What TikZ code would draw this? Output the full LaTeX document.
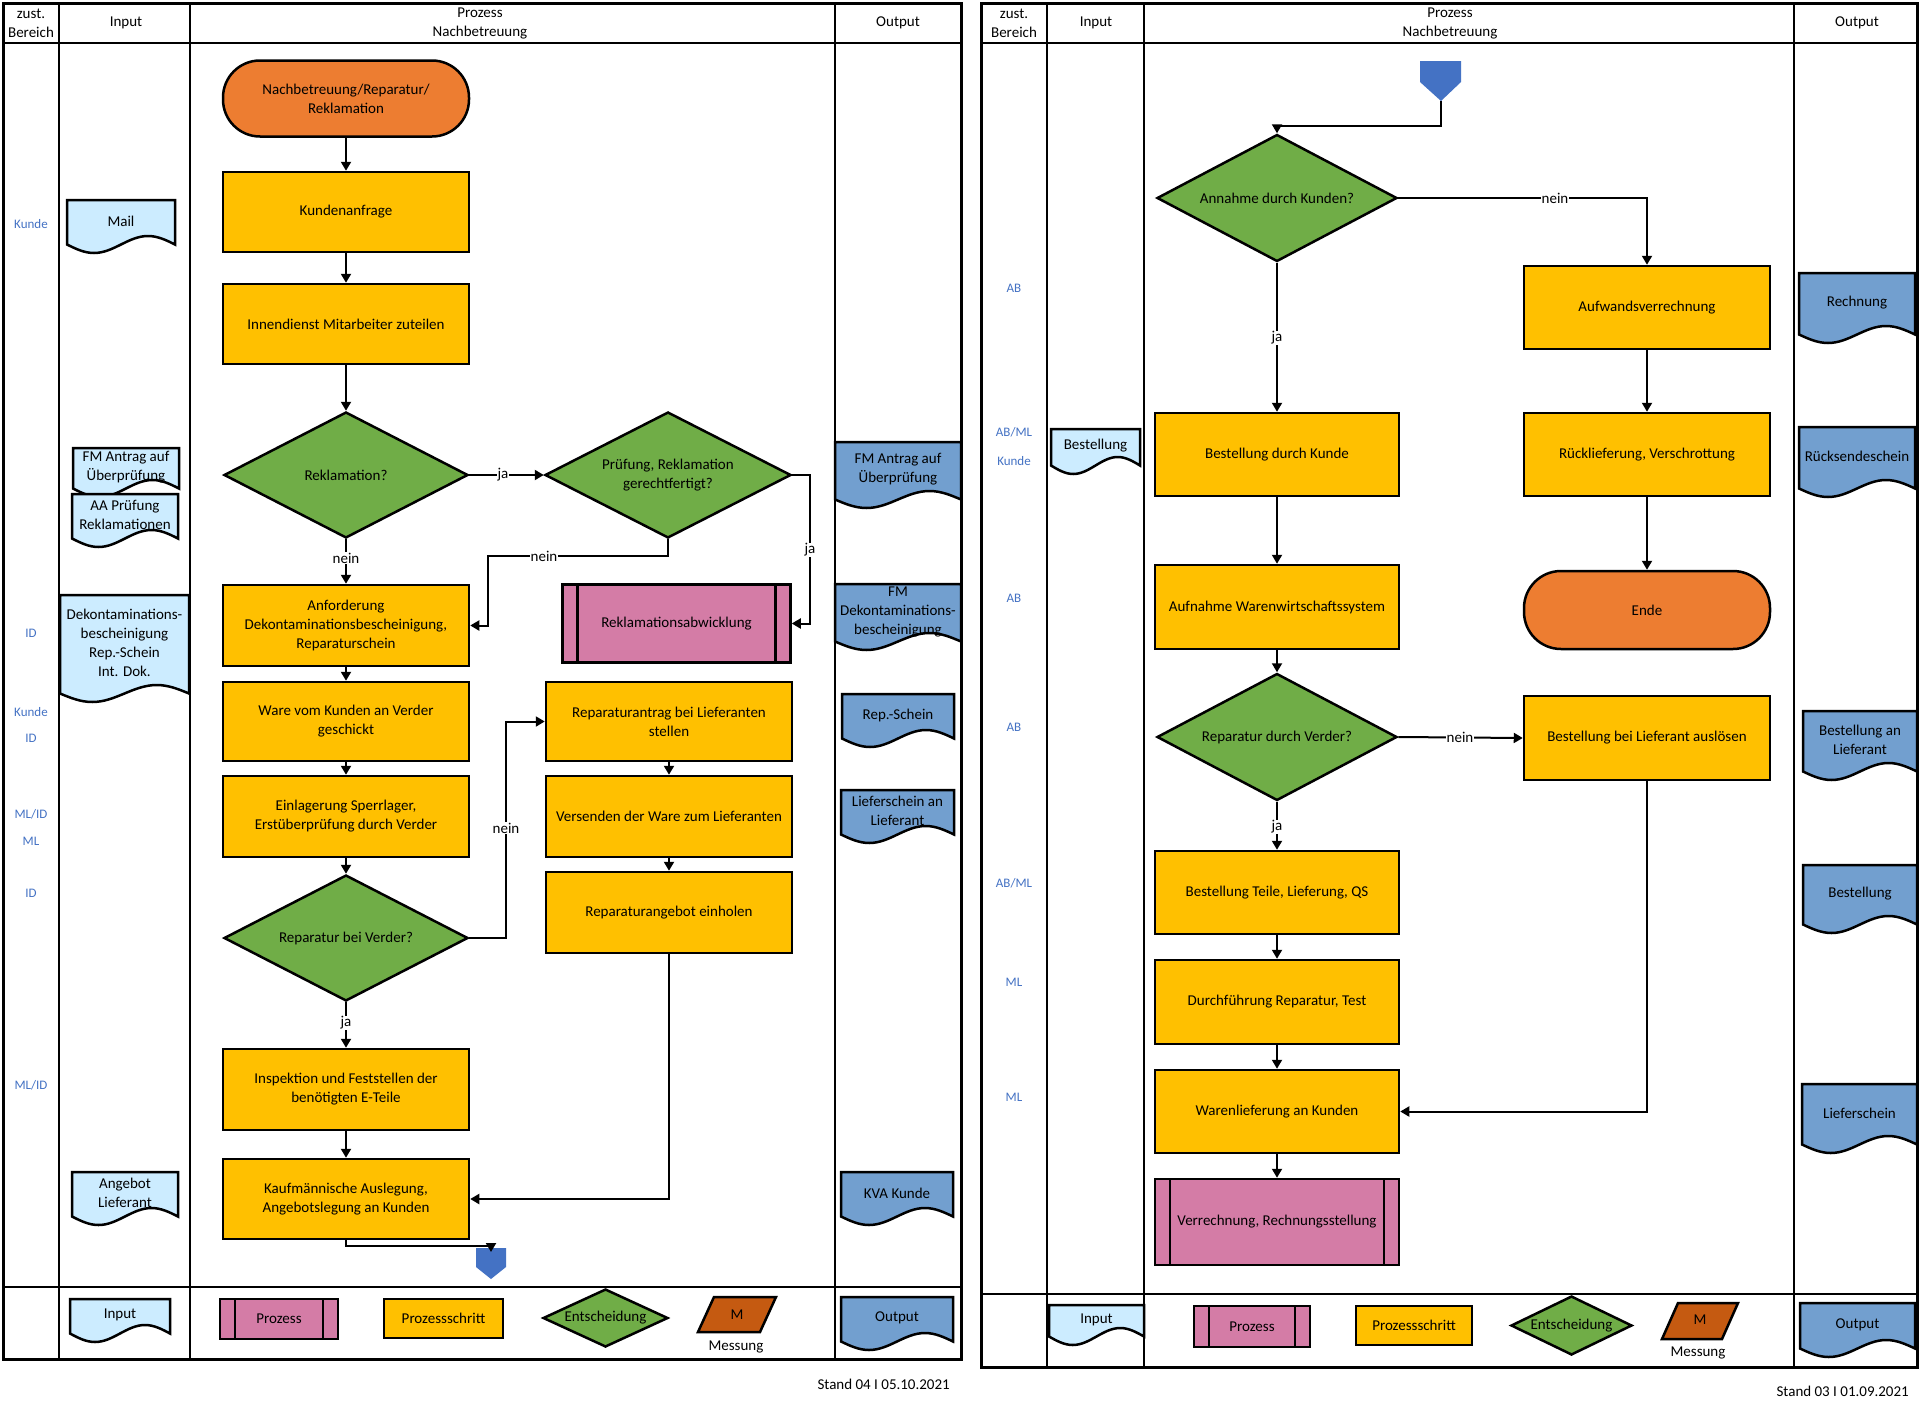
\documentclass[tikz,border=0pt]{standalone}
\usepackage{fontspec}
\setmainfont{Carlito}
\usetikzlibrary{arrows.meta,shapes.geometric}
\definecolor{corange}{HTML}{ED7D31}
\definecolor{cyellow}{HTML}{FFC000}
\definecolor{cgreen}{HTML}{70AD47}
\definecolor{cpink}{HTML}{D47CA6}
\definecolor{cin}{HTML}{CCECFF}
\definecolor{cout}{HTML}{729FCF}
\definecolor{cconn}{HTML}{4472C4}
\definecolor{cmeas}{HTML}{C55A11}
\definecolor{clbl}{HTML}{4472C4}
\newcommand\fs{\fontsize{15}{19}\selectfont}
\newcommand\docu[7]{%
  \pgfmathsetmacro\dxa{#2+0.25*(#4-#2)}%
  \pgfmathsetmacro\dxb{#2+0.5*(#4-#2)}%
  \pgfmathsetmacro\dxc{#2+0.75*(#4-#2)}%
  \pgfmathsetmacro\dyb{#5-8.5}%
  \pgfmathsetmacro\dyc{#5-17}%
  \pgfmathsetmacro\dtx{(#2+#4)/2}%
  \pgfmathsetmacro\dty{(#3+#5-17)/2+3}%
  \draw[docline,fill=#6] (#2,#3) -- (#4,#3) -- (#4,\dyb) sin (\dxc,\dyc) cos (\dxb,\dyb) sin (\dxa,#5) cos (#2,\dyb) -- cycle;
  \node[doctext] (#1) at (\dtx,\dty) {#7};
}
\begin{document}
\begin{tikzpicture}[x=1pt,y=-1pt,
  sz/.style 2 args={minimum width=#1pt,minimum height=#2pt},
  box/.style={draw=black,line width=2.5pt,align=center,font=\fs,inner sep=2pt},
  stepbox/.style={box,fill=cyellow},
  term/.style={box,fill=corange,rounded corners=37pt},
  procbox/.style={box,fill=cpink,path picture={
     \draw[line width=2.5pt] ([xshift=15pt]path picture bounding box.north west) -- ([xshift=15pt]path picture bounding box.south west);
     \draw[line width=2.5pt] ([xshift=-15pt]path picture bounding box.north east) -- ([xshift=-15pt]path picture bounding box.south east);}},
  dec/.style={draw=black,line width=2.5pt,fill=cgreen,diamond,inner sep=0pt},
  txt/.style={align=center,font=\fs,inner sep=0pt},
  docline/.style={draw=black,line width=2.5pt},
  doctext/.style={align=center,font=\fs,inner sep=0pt},
  blbl/.style={font=\fontsize{13}{15}\selectfont,text=clbl,inner sep=0pt},
  frame/.style={line width=3pt},
  sep/.style={line width=2pt},
  conn/.style={line width=2pt,-{Triangle[length=9pt,width=10pt]}},
  yn/.style={fill=white,font=\fs,inner sep=1pt}
]
\fill[white] (0,0) rectangle (1920,1408);
\useasboundingbox (0,0) rectangle (1920,1408);

%% ---------------- LEFT PANEL FRAME ----------------
\draw[sep] (3,43) -- (961,43);
\draw[sep] (3,1287) -- (961,1287);
\draw[sep] (59,3) -- (59,1359);
\draw[sep] (190,3) -- (190,1359);
\draw[sep] (835,3) -- (835,1359);
\draw[frame] (3,3) rectangle (961,1359);
\node[txt] (hL1) at (31,23) {zust.\\Bereich};
\node[txt] (hL2) at (126,23) {Input};
\node[txt] (hL3) at (480,23) {Prozess\\Nachbetreuung};
\node[txt] (hL4) at (898,23) {Output};

%% ---------------- RIGHT PANEL FRAME ----------------
\draw[sep] (981,43) -- (1917,43);
\draw[sep] (981,1294) -- (1917,1294);
\draw[sep] (1047,3) -- (1047,1367);
\draw[sep] (1144,3) -- (1144,1367);
\draw[sep] (1794,3) -- (1794,1367);
\draw[frame] (981,3) rectangle (1917,1367);
\node[txt] (hR1) at (1014,23) {zust.\\Bereich};
\node[txt] (hR2) at (1096,23) {Input};
\node[txt] (hR3) at (1450,23) {Prozess\\Nachbetreuung};
\node[txt] (hR4) at (1857,23) {Output};

%% ---------------- LEFT PROCESS ----------------
\node[term,sz={246}{76}] (start) at (346,98.5) {Nachbetreuung/Reparatur/\\Reklamation};
\node[stepbox,sz={246}{80}] (k1) at (346,212) {Kundenanfrage};
\node[stepbox,sz={246}{80}] (k2) at (346,324) {Innendienst Mitarbeiter zuteilen};
\node[dec,sz={244}{126}] (d1) at (346,475) {};
\node[txt] (d1t) at (d1) {Reklamation?};
\node[dec,sz={246}{126}] (d2) at (668,475) {};
\node[txt] (d2t) at (d2) {Prüfung, Reklamation\\gerechtfertigt?};
\node[procbox,sz={228}{78}] (rk) at (676.5,623.5) {Reklamationsabwicklung};
\node[stepbox,sz={246}{81}] (k3) at (346,625.5) {Anforderung\\Dekontaminationsbescheinigung,\\Reparaturschein};
\node[stepbox,sz={246}{79}] (k4) at (346,721.5) {Ware vom Kunden an Verder\\geschickt};
\node[stepbox,sz={246}{81}] (k5) at (346,816.5) {Einlagerung Sperrlager,\\Erstüberprüfung durch Verder};
\node[dec,sz={244}{126}] (d3) at (346,938) {};
\node[txt] (d3t) at (d3) {Reparatur bei Verder?};
\node[stepbox,sz={246}{81}] (k6) at (346,1089.5) {Inspektion und Feststellen der\\benötigten E-Teile};
\node[stepbox,sz={246}{80}] (k7) at (346,1199) {Kaufmännische Auslegung,\\Angebotslegung an Kunden};
\node[stepbox,sz={246}{79}] (r1) at (669,721.5) {Reparaturantrag bei Lieferanten\\stellen};
\node[stepbox,sz={246}{81}] (r2) at (669,816.5) {Versenden der Ware zum Lieferanten};
\node[stepbox,sz={246}{81}] (r3) at (669,912.5) {Reparaturangebot einholen};
\fill[cconn] (476,1248) -- (506,1248) -- (506,1267) -- (491,1279) -- (476,1267) -- cycle;
\coordinate (off1) at (491,1252);

\draw[conn] (start) -- (k1);
\draw[conn] (k1) -- (k2);
\draw[conn] (k2) -- (d1);
\draw[conn] (d1.east) -- (d2.west);
\draw[conn] (d2.east) -- (810,475) |- (rk.east);
\draw[conn] (d2.south) |- (488,556) |- (k3.east);
\draw[conn] (d1.south) -- (k3.north);
\draw[conn] (k3) -- (k4);
\draw[conn] (k4) -- (k5);
\draw[conn] (k5) -- (d3);
\draw[conn] (d3.east) -- (506,938) |- (r1.west);
\draw[conn] (d3.south) -- (k6.north);
\draw[conn] (k6) -- (k7);
\draw[conn] (r1) -- (r2);
\draw[conn] (r2) -- (r3);
\draw[conn] (r3.south) |- (k7.east);
\draw[conn] (k7.south) -- (346,1246) -| (off1);

\node[yn] (y1) at (503,475) {ja};
\node[yn] (y2) at (810,550) {ja};
\node[yn] (y3) at (544,556) {nein};
\node[yn] (y4) at (346,558) {nein};
\node[yn] (y5) at (506,828) {nein};
\node[yn] (y6) at (346,1023) {ja};

%% left inputs
\docu{iMail}{67}{200}{175}{253}{cin}{Mail}
\docu{iFM}{73}{448}{179}{497}{cin}{FM Antrag auf\\Überprüfung}
\docu{iAA}{72}{494}{178}{547}{cin}{AA Prüfung\\Reklamationen}
\docu{iDek}{60}{595}{189}{702}{cin}{Dekontaminations-\\bescheinigung\\Rep.-Schein\\Int. Dok.}
\docu{iAng}{72}{1172}{178}{1225}{cin}{Angebot\\Lieferant}
%% left outputs
\docu{oFM}{835}{442}{961}{508}{cout}{FM Antrag auf\\Überprüfung}
\docu{oDek}{835}{584}{961}{650}{cout}{FM\\Dekontaminations-\\bescheinigung}
\docu{oRep}{842}{694}{954}{747}{cout}{Rep.-Schein}
\docu{oLief}{841}{790}{954}{843}{cout}{Lieferschein an\\Lieferant}
\docu{oKVA}{841}{1172}{953}{1225}{cout}{KVA Kunde}

%% left area labels
\node[blbl] (bl1) at (31,224) {Kunde};
\node[blbl] (bl2) at (31,633) {ID};
\node[blbl] (bl3) at (31,712) {Kunde};
\node[blbl] (bl4) at (31,738) {ID};
\node[blbl] (bl5) at (31,814) {ML/ID};
\node[blbl] (bl6) at (31,841) {ML};
\node[blbl] (bl7) at (31,893) {ID};
\node[blbl] (bl8) at (31,1085) {ML/ID};

%% left legend
\docu{lgIn}{70}{1299}{170}{1342}{cin}{Input}
\node[procbox,sz={118}{40}] (lgP) at (279,1319) {Prozess};
\node[stepbox,sz={119}{39}] (lgS) at (443.5,1318.5) {Prozessschritt};
\node[dec,sz={125}{58}] (lgE) at (605.5,1318) {};
\node[txt] (lgEt) at (lgE) {Entscheidung};
\draw[line width=2.5pt,fill=cmeas] (714,1297) -- (776,1297) -- (760,1332) -- (698,1332) -- cycle;
\node[txt] (lgM) at (737,1314.5) {M};
\node[txt] (lgMt) at (736,1347) {Messung};
\docu{lgOut}{841}{1297}{953}{1350}{cout}{Output}
\node[txt,anchor=east] (stL) at (950,1384) {Stand 04 I 05.10.2021};

%% ---------------- RIGHT PROCESS ----------------
\fill[cconn] (1420,61) -- (1461,61) -- (1461,82) -- (1441,101) -- (1420,82) -- cycle;
\coordinate (off2) at (1441,101);
\node[dec,sz={240}{127}] (a1) at (1277,198) {};
\node[txt] (a1t) at (a1) {Annahme durch Kunden?};
\node[stepbox,sz={246}{83}] (b1) at (1647,307.5) {Aufwandsverrechnung};
\node[stepbox,sz={244}{83}] (b2) at (1277,454.5) {Bestellung durch Kunde};
\node[stepbox,sz={246}{83}] (b3) at (1647,454.5) {Rücklieferung, Verschrottung};
\node[stepbox,sz={244}{84}] (b4) at (1277,607) {Aufnahme Warenwirtschaftssystem};
\node[term,sz={246}{78}] (ende) at (1647,610) {Ende};
\node[dec,sz={240}{127}] (a2) at (1277,737) {};
\node[txt] (a2t) at (a2) {Reparatur durch Verder?};
\node[stepbox,sz={246}{84}] (b5) at (1647,738) {Bestellung bei Lieferant auslösen};
\node[stepbox,sz={244}{83}] (b6) at (1277,892.5) {Bestellung Teile, Lieferung, QS};
\node[stepbox,sz={244}{84}] (b7) at (1277,1002) {Durchführung Reparatur, Test};
\node[stepbox,sz={244}{83}] (b8) at (1277,1111.5) {Warenlieferung an Kunden};
\node[procbox,sz={244}{86}] (b9) at (1277,1222) {Verrechnung, Rechnungsstellung};

\draw[conn] (off2) -- (1441,126) -| (a1.north);
\draw[conn] (a1.east) -| (b1.north);
\draw[conn] (a1.south) -- (b2.north);
\draw[conn] (b1) -- (b3);
\draw[conn] (b3) -- (ende);
\draw[conn] (b2) -- (b4);
\draw[conn] (b4) -- (a2);
\draw[conn] (a2.east) -- (b5.west);
\draw[conn] (a2.south) -- (b6.north);
\draw[conn] (b6) -- (b7);
\draw[conn] (b7) -- (b8);
\draw[conn] (b8) -- (b9);
\draw[conn] (b5.south) |- (b8.east);

\node[yn] (y7) at (1555,198) {nein};
\node[yn] (y8) at (1277,338) {ja};
\node[yn] (y9) at (1460,737) {nein};
\node[yn] (y10) at (1277,827) {ja};

%% right inputs/outputs
\docu{iBest}{1051}{429}{1140}{474}{cin}{Bestellung}
\docu{oRech}{1799}{273}{1915}{343}{cout}{Rechnung}
\docu{oRueck}{1799}{427}{1915}{497}{cout}{Rücksendeschein}
\docu{oBestL}{1803}{711}{1917}{780}{cout}{Bestellung an\\Lieferant}
\docu{oBest}{1803}{865}{1917}{933}{cout}{Bestellung}
\docu{oLs}{1802}{1084}{1917}{1153}{cout}{Lieferschein}

%% right labels
\node[blbl] (br1) at (1014,288) {AB};
\node[blbl] (br2) at (1014,432) {AB/ML};
\node[blbl] (br3) at (1014,461) {Kunde};
\node[blbl] (br4) at (1014,598) {AB};
\node[blbl] (br5) at (1014,727) {AB};
\node[blbl] (br6) at (1014,883) {AB/ML};
\node[blbl] (br7) at (1014,982) {ML};
\node[blbl] (br8) at (1014,1097) {ML};

%% right legend
\docu{rgIn}{1049}{1305}{1144}{1345}{cin}{Input}
\node[procbox,sz={116}{41}] (rgP) at (1252,1326.5) {Prozess};
\node[stepbox,sz={116}{39}] (rgS) at (1414,1325.5) {Prozessschritt};
\node[dec,sz={121}{59}] (rgE) at (1571.5,1325.5) {};
\node[txt] (rgEt) at (rgE) {Entscheidung};
\draw[line width=2.5pt,fill=cmeas] (1678,1303) -- (1738,1303) -- (1722,1339) -- (1662,1339) -- cycle;
\node[txt] (rgM) at (1700,1320) {M};
\node[txt] (rgMt) at (1698,1353) {Messung};
\docu{rgOut}{1800}{1303}{1915}{1357}{cout}{Output}
\node[txt,anchor=east] (stR) at (1909,1391) {Stand 03 I 01.09.2021};
\end{tikzpicture}
\end{document}
